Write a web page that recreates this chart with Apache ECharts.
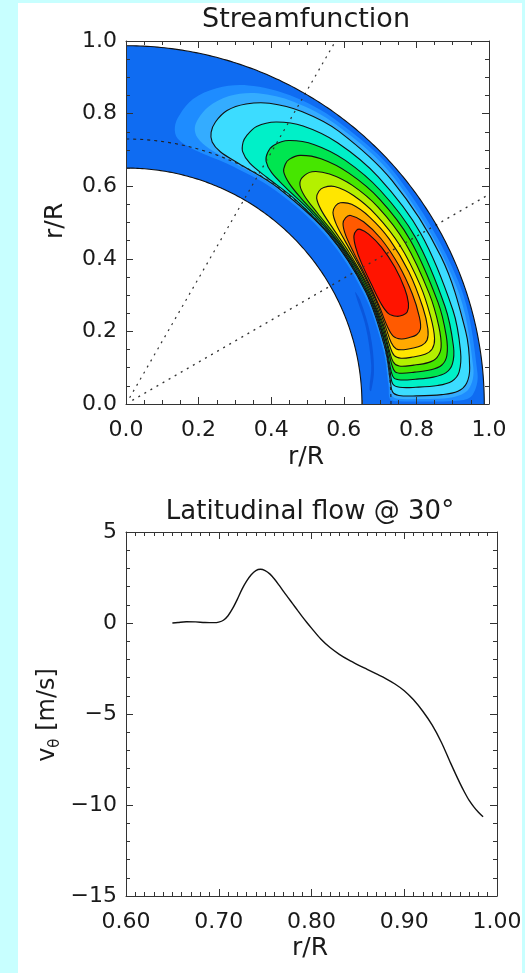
<!DOCTYPE html>
<html><head><meta charset="utf-8">
<script src="https://cdn.jsdelivr.net/npm/echarts/dist/echarts.min.js"></script>
<style>
html,body{margin:0;padding:0;background:#c8ffff;width:525px;height:973px;overflow:hidden}
#panel{position:absolute;left:18px;top:3px;width:504px;height:970px;background:#fff}
#chart{position:absolute;left:0;top:0;width:525px;height:973px}
</style></head><body><div id="panel"></div><div id="chart"></div>
<script>
// ---------------- data ----------------
// shell geometry (r/R) and guide lines
const shellRadii = [0.65, 0.987];
const tachoclineRadius = 0.73;
const guideLatitudes = [30, 60];

// streamfunction contour levels (normalised) and their closed paths [r/R, latitude deg]
const levelValues = [-0.03, 0.033, 0.067, 0.1, 0.2, 0.3, 0.4, 0.5, 0.6, 0.7, 0.8, 0.9];
const lineLevels = [0.1, 0.2, 0.3, 0.4, 0.5, 0.6, 0.7, 0.8, 0.9];
const levelPaths = [
  [[0.676,3],[0.69,8],[0.70,16],[0.706,24],[0.702,26],[0.694,18],[0.684,9],[0.672,3.5]],
  [[0.80,0.5],[0.92,0.6],[0.955,1.5],[0.972,5],[0.976,20],[0.976,40],[0.973,53],[0.963,62],[0.94,69],[0.905,74],[0.86,77.6],[0.81,79.5],[0.775,80],[0.745,79],[0.725,75],[0.718,67],[0.718,55],[0.72,40],[0.722,25],[0.724,12],[0.725,4],[0.728,1],[0.75,0.6]],
  [[0.80,1.0],[0.9,1.2],[0.945,2.5],[0.962,6],[0.966,20],[0.966,40],[0.963,53],[0.952,61],[0.93,67],[0.895,71.5],[0.85,74.5],[0.81,75.8],[0.783,76],[0.76,75],[0.74,72],[0.728,66],[0.725,55],[0.725,40],[0.726,25],[0.727,12],[0.728,4],[0.733,1.8],[0.75,1.1]],
  [[0.80,1.6],[0.87,1.7],[0.915,2.2],[0.94,3.5],[0.952,6],[0.957,12],[0.958,25],[0.957,40],[0.953,52],[0.94,59],[0.918,64.5],[0.89,68.2],[0.855,71],[0.815,72.4],[0.784,72.6],[0.76,71.8],[0.742,69.5],[0.732,65],[0.728,55],[0.728,40],[0.729,25],[0.730,12],[0.731,5],[0.735,2.6],[0.752,1.8]],
  [[0.80,3.3],[0.86,3.4],[0.9,4],[0.922,5.5],[0.933,9],[0.937,16],[0.938,30],[0.935,42],[0.926,51],[0.908,57.5],[0.88,62],[0.845,64.8],[0.81,65.8],[0.79,65.9],[0.766,65.2],[0.746,62.8],[0.735,58],[0.731,50],[0.730,38],[0.731,25],[0.732,14],[0.733,7],[0.737,4.3],[0.755,3.5]],
  [[0.80,4.9],[0.85,5.0],[0.886,5.6],[0.906,7],[0.916,10],[0.919,17],[0.920,30],[0.915,40],[0.903,48],[0.883,54],[0.853,58.3],[0.82,60.3],[0.795,60.6],[0.772,60],[0.753,57.8],[0.741,53.5],[0.735,46],[0.733,35],[0.733,22],[0.734,12],[0.736,7],[0.742,5.5],[0.76,5.0]],
  [[0.80,6.3],[0.845,6.4],[0.876,7],[0.894,8.6],[0.902,12],[0.904,18],[0.904,30],[0.898,39],[0.884,46],[0.863,51.5],[0.836,55],[0.81,56.3],[0.793,56.4],[0.773,55.8],[0.756,53.5],[0.744,49.5],[0.738,43],[0.736,33],[0.736,22],[0.737,13],[0.740,8.5],[0.747,6.8],[0.765,6.35]],
  [[0.80,7.7],[0.84,7.8],[0.866,8.5],[0.882,10.2],[0.888,14],[0.889,20],[0.888,30],[0.881,38],[0.867,44],[0.846,48.5],[0.82,51.3],[0.79,52.1],[0.77,51.5],[0.755,49.3],[0.745,45],[0.740,38],[0.739,28],[0.739,18],[0.740,12],[0.745,9],[0.76,7.9]],
  [[0.80,9.3],[0.835,9.45],[0.857,10.2],[0.869,12],[0.873,16],[0.874,22],[0.872,30],[0.864,37],[0.85,42.5],[0.83,46.2],[0.808,47.6],[0.791,47.8],[0.773,47.2],[0.758,44.8],[0.748,40.5],[0.743,34],[0.742,25],[0.742,17],[0.744,12.5],[0.751,10.2],[0.768,9.45]],
  [[0.80,11],[0.83,11.2],[0.848,12],[0.857,14],[0.860,18],[0.860,25],[0.856,32],[0.846,37.5],[0.83,41.5],[0.81,43.2],[0.794,43.4],[0.777,42.8],[0.762,40.5],[0.752,36.5],[0.746,30],[0.745,23],[0.746,16.5],[0.750,13],[0.760,11.5],[0.78,11.05]],
  [[0.80,13.2],[0.823,13.4],[0.837,14.3],[0.843,16.5],[0.845,21],[0.843,27],[0.837,33],[0.825,37.5],[0.808,40],[0.793,40.3],[0.777,39.7],[0.763,37.5],[0.753,33.5],[0.748,28],[0.748,21],[0.751,16.5],[0.760,14.2],[0.779,13.3]],
  [[0.80,17.8],[0.815,18.1],[0.826,19.6],[0.831,22.5],[0.831,27],[0.826,31.5],[0.816,35],[0.805,36.7],[0.795,37.0],[0.78,36.4],[0.766,34.3],[0.756,31],[0.752,26],[0.755,21.5],[0.765,19],[0.784,17.95]]
];

// latitudinal flow at 30 degrees
const flowR = [0.650,0.656,0.665,0.675,0.685,0.695,0.700,0.705,0.710,0.715,0.720,0.725,0.730,0.735,0.740,0.745,0.750,0.755,0.760,0.765,0.770,0.775,0.780,0.785,0.790,0.795,0.800,0.810,0.820,0.830,0.840,0.850,0.860,0.870,0.880,0.890,0.900,0.910,0.920,0.930,0.940,0.950,0.960,0.965,0.970,0.975,0.980,0.985];
const flowV = [0.00,0.03,0.07,0.06,0.03,0.02,0.05,0.15,0.40,0.80,1.30,1.85,2.30,2.65,2.88,2.95,2.88,2.70,2.42,2.08,1.72,1.38,1.04,0.69,0.35,0.03,-0.28,-0.88,-1.35,-1.72,-2.03,-2.30,-2.55,-2.80,-3.05,-3.35,-3.72,-4.22,-4.85,-5.60,-6.55,-7.70,-8.80,-9.30,-9.75,-10.10,-10.40,-10.65];

// ---------------- styles ----------------
const shellColor = '#0f6cf2';
const levelColors = ['#0a56dc','#1e8cff','#34acff','#3cdcff','#00f0c8','#00e650','#46e600','#b4f000','#ffe600','#ffaa00','#ff5a00','#ff1400'];
const FONT = 'DejaVu Sans';
const INK = '#1a1a1a';

const chart = echarts.init(document.getElementById('chart'), null, {renderer:'canvas'});

function toXY(r, lat){ const a = lat*Math.PI/180; return [r*Math.cos(a), r*Math.sin(a)]; }
function arcPoints(api, r, a0, a1, n){
  const pts = [];
  for (let i=0;i<=n;i++){ const a=a0+(a1-a0)*i/n; pts.push(api.coord(toXY(r,a))); }
  return pts;
}

// layer list built from the data arrays
const layers = [{kind:'shell'}];
levelPaths.forEach((p,i)=>layers.push({kind:'level', idx:i}));
layers.push({kind:'tacho'});
guideLatitudes.forEach(l=>layers.push({kind:'ray', lat:l}));
layers.push({kind:'outline'});

function renderField(params, api){
  const L = layers[params.dataIndex];
  if (L.kind==='shell'){
    const pts = arcPoints(api, shellRadii[1], 0, 90, 120).concat(arcPoints(api, shellRadii[0], 90, 0, 120));
    return {type:'polygon', shape:{points:pts}, style:{fill:shellColor, stroke:null}};
  }
  if (L.kind==='level'){
    const pts = levelPaths[L.idx].map(p=>api.coord(toXY(p[0],p[1])));
    const lv = levelValues[L.idx];
    const drawn = lineLevels.indexOf(lv) >= 0;
    return {type:'polygon', shape:{points:pts, smooth:0.35},
      style:{fill:levelColors[L.idx], stroke: drawn ? '#111' : null, lineWidth: drawn ? 1.1 : 0}};
  }
  if (L.kind==='tacho'){
    return {type:'polyline', shape:{points:arcPoints(api, tachoclineRadius, 0, 90, 120)},
      style:{stroke:'#222', lineWidth:1.1, lineDash:[3,4], fill:null}};
  }
  if (L.kind==='ray'){
    const c = Math.cos(L.lat*Math.PI/180), s = Math.sin(L.lat*Math.PI/180);
    const rEnd = 1/Math.max(c,s);
    const a=api.coord(toXY(0.02,L.lat)), b=api.coord(toXY(rEnd,L.lat));
    return {type:'line', shape:{x1:a[0],y1:a[1],x2:b[0],y2:b[1]},
      style:{stroke:'#333', lineWidth:1.2, lineDash:[2,5]}};
  }
  if (L.kind==='outline'){
    return {type:'group', children:[
      {type:'polyline', shape:{points:arcPoints(api, shellRadii[1], 0, 90, 160)}, style:{stroke:'#111', lineWidth:1.1, fill:null}},
      {type:'polyline', shape:{points:arcPoints(api, shellRadii[0], 0, 90, 160)}, style:{stroke:'#111', lineWidth:1.1, fill:null}}
    ]};
  }
}

const labelStyle = {fontFamily:FONT, fontSize:22, color:INK};
function axisCommon(extra){
  return Object.assign({
    type:'value', z:10,
    axisLine:{show:true, onZero:false, lineStyle:{color:'#333', width:1}},
    axisTick:{show:true, inside:true, length:7, lineStyle:{color:'#333', width:1}},
    splitLine:{show:false}, minorSplitLine:{show:false}
  }, extra);
}
function minor(n){ return {show:true, splitNumber:n, length:4, lineStyle:{color:'#333', width:1}}; }

const option = {
  animation:false,
  backgroundColor:'transparent',
  grid:[
    {left:126, top:41, width:363, height:363, outerBoundsMode:'none', containLabel:false},
    {left:126, top:532, width:371, height:364, outerBoundsMode:'none', containLabel:false}
  ],
  xAxis:[
    axisCommon({gridIndex:0, position:'bottom', min:0, max:1, interval:0.2, minorTick:minor(4),
      axisLabel:Object.assign({margin:15, formatter:v=>v.toFixed(1)}, labelStyle)}),
    axisCommon({gridIndex:0, position:'top', min:0, max:1, interval:0.2, minorTick:minor(4), axisLabel:{show:false}}),
    axisCommon({gridIndex:1, position:'bottom', min:0.6, max:1.0, interval:0.1, minorTick:minor(10),
      axisLabel:Object.assign({margin:15, formatter:v=>v.toFixed(2)}, labelStyle)}),
    axisCommon({gridIndex:1, position:'top', min:0.6, max:1.0, interval:0.1, minorTick:minor(10), axisLabel:{show:false}})
  ],
  yAxis:[
    axisCommon({gridIndex:0, position:'left', min:0, max:1, interval:0.2, minorTick:minor(4),
      axisLabel:Object.assign({margin:9, formatter:v=>v.toFixed(1)}, labelStyle)}),
    axisCommon({gridIndex:0, position:'right', min:0, max:1, interval:0.2, minorTick:minor(4), axisLabel:{show:false}}),
    axisCommon({gridIndex:1, position:'left', min:-15, max:5, interval:5, minorTick:minor(5),
      axisLabel:Object.assign({margin:9, formatter:v=>String(v).replace('-','\u2212')}, labelStyle)}),
    axisCommon({gridIndex:1, position:'right', min:-15, max:5, interval:5, minorTick:minor(5), axisLabel:{show:false}})
  ],
  graphic:[
    {type:'text', x:306, y:20, style:{text:'Streamfunction', font:'27px "DejaVu Sans"', fill:INK, textAlign:'center', textVerticalAlign:'middle'}},
    {type:'text', x:306, y:457, style:{text:'r/R', font:'25px "DejaVu Sans"', fill:INK, textAlign:'center', textVerticalAlign:'middle'}},
    {type:'text', x:55, y:221, rotation:Math.PI/2, style:{text:'r/R', font:'25px "DejaVu Sans"', fill:INK, textAlign:'center', textVerticalAlign:'middle'}},
    {type:'text', x:310, y:512, style:{text:'Latitudinal flow @ 30\u00b0', font:'26px "DejaVu Sans"', fill:INK, textAlign:'center', textVerticalAlign:'middle'}},
    {type:'text', x:310, y:948, style:{text:'r/R', font:'25px "DejaVu Sans"', fill:INK, textAlign:'center', textVerticalAlign:'middle'}},
    {type:'text', x:48, y:715, rotation:Math.PI/2, style:{text:'{a|v}{b|\u03b8}{a| [m/s]}', fill:INK, textAlign:'center', textVerticalAlign:'middle',
      rich:{a:{fontFamily:FONT, fontSize:24, fill:INK, lineHeight:30}, b:{fontFamily:FONT, fontSize:15, fill:INK, lineHeight:30, verticalAlign:'bottom'}}}}
  ],
  series:[
    {type:'custom', xAxisIndex:0, yAxisIndex:0, z:2, silent:true, renderItem:renderField,
      data:layers.map(()=>[0,0])},
    {type:'line', xAxisIndex:2, yAxisIndex:2, z:3, data:flowR.map((r,i)=>[r, flowV[i]]), smooth:0.3,
      showSymbol:false, lineStyle:{color:'#111', width:1.4}, silent:true}
  ]
};
chart.setOption(option);
</script></body></html>
